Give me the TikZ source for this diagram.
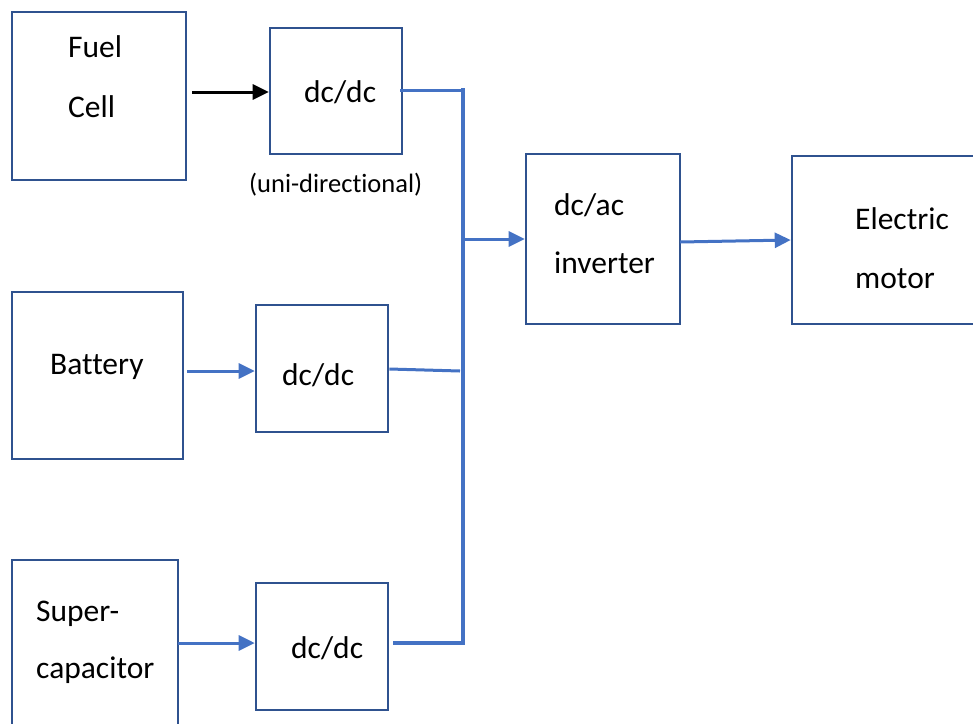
\documentclass[tikz,border=0pt]{standalone}
\usepackage{fontspec}
\setmainfont{Carlito}[Ligatures={NoCommon}]
\usetikzlibrary{arrows.meta}
\definecolor{boxblue}{HTML}{2F528F}
\definecolor{lineblue}{HTML}{4472C4}
\begin{document}
\begin{tikzpicture}[x=1pt,y=-1pt,
  box/.style={draw=boxblue, line width=2.6pt, inner sep=0pt},
  lbl/.style={anchor=base west, inner sep=0pt, font=\fontsize{31.5}{36}\selectfont},
  small/.style={anchor=base west, inner sep=0pt, font=\fontsize{26.5}{30}\selectfont},
  wire/.style={draw=lineblue, line width=3pt},
  bus/.style={draw=lineblue, line width=3.8pt},
  arr/.style={draw=lineblue, line width=3pt, -{Triangle[length=16pt,width=15pt]}},
  blk/.style={draw=black, line width=3pt, -{Triangle[length=16pt,width=15pt]}}]
\useasboundingbox (0,0) rectangle (973,723);
% boxes
\node[box, minimum width=174pt, minimum height=168pt] (fc) at (99,96) {};
\node[box, minimum width=132pt, minimum height=126pt] (dc1) at (336,91) {};
\node[box, minimum width=154pt, minimum height=170pt] (inv) at (603,239) {};
\node[box, minimum width=200pt, minimum height=168pt] (mot) at (892,240) {};
\node[box, minimum width=171pt, minimum height=167pt] (bat) at (97.5,375.5) {};
\node[box, minimum width=132pt, minimum height=127pt] (dc2) at (322,368.5) {};
\node[box, minimum width=166pt, minimum height=180pt] (sc) at (95,650) {};
\node[box, minimum width=132pt, minimum height=127pt] (dc3) at (322,646.5) {};
% texts
\node[lbl] (t1) at (68,57) {Fuel};
\node[lbl] (t2) at (68,117) {Cell};
\node[lbl] (t3) at (304,102) {dc/dc};
\node[small] (t4) at (249,192) {(uni-directional)};
\node[lbl] (t5) at (554,215) {dc/ac};
\node[lbl] (t6) at (554,273) {inverter};
\node[lbl] (t7) at (855,229) {Electric};
\node[lbl] (t8) at (855,288) {motor};
\node[lbl] (t9) at (50,374) {Battery};
\node[lbl] (t10) at (282,385) {dc/dc};
\node[lbl] (t11) at (36,621) {Super-};
\node[lbl] (t12) at (36,678) {capacitor};
\node[lbl] (t13) at (291,658) {dc/dc};
% coordinates
\coordinate (fcout) at (192,92);
\coordinate (dc1out) at (400,90);
\coordinate (bustop) at (463,88);
\coordinate (bus1) at (463,90);
\coordinate (busmid) at (463,239);
\coordinate (bus2) at (460,371);
\coordinate (bus3) at (463,643);
\coordinate (busbot) at (463,645);
\coordinate (batout) at (187,371);
\coordinate (scout) at (178,643);
\coordinate (dc3out) at (393,643);
\coordinate (invout) at (680,242);
% connectors
\draw[blk] (fcout) -- (fcout -| dc1.west);
\draw[wire] (dc1out) -- (bus1);
\draw[bus] (bustop) -- (busbot);
\draw[arr] (busmid) -- (busmid -| inv.west);
\draw[arr] (invout) -- (mot.west);
\draw[arr] (batout) -- (batout -| dc2.west);
\draw[wire] (dc2.east |- 0,369) -- (bus2);
\draw[arr] (scout) -- (scout -| dc3.west);
\draw[bus] (dc3out) -- (bus3);
\end{tikzpicture}
\end{document}
